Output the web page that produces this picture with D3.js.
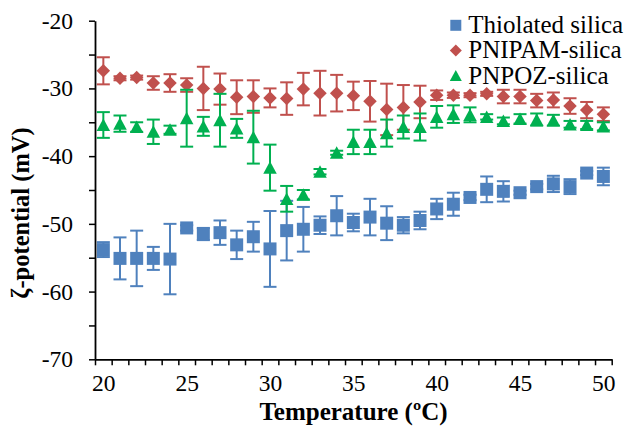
<!DOCTYPE html>
<html>
<head>
<meta charset="utf-8">
<script src="https://cdn.jsdelivr.net/npm/d3@7/dist/d3.min.js"></script>
<style>
  html, body { margin: 0; padding: 0; background: #fff; }
  svg { display: block; }
</style>
</head>
<body>
<svg id="chart" width="626" height="430"></svg>
<script>
// Temperatures (ºC)
const temperatures = d3.range(20, 51);

// ζ-potential means (mV) and standard deviations for each sample
const thiolatedMean = [-53.8, -55.1, -55.1, -55.1, -55.2, -50.6, -51.5, -51.3, -53.1, -51.9, -53.7,
  -51.0, -50.8, -50.2, -48.8, -49.8, -49.0, -49.9, -50.2, -49.5, -47.8,
  -47.1, -46.1, -44.9, -45.2, -45.4, -44.5, -44.1, -44.5, -42.5, -43.0];
const thiolatedErr = [1.1, 3.1, 4.1, 1.7, 5.2, 0.4, 0.9, 1.8, 2.1, 2.2, 5.6,
  4.4, 3.3, 1.3, 2.9, 1.3, 2.7, 2.5, 1.2, 1.3, 1.5,
  1.7, 0.4, 1.9, 1.5, 0.3, 0.4, 1.2, 1.1, 0.3, 1.3];

const pnipamMean = [-27.4, -28.5, -28.4, -29.2, -29.2, -29.5, -30.0, -30.1, -31.3, -31.2, -31.4,
  -31.5, -30.1, -30.7, -30.7, -31.1, -31.9, -33.1, -32.8, -32.0, -31.0,
  -31.0, -31.0, -30.8, -31.2, -31.2, -31.8, -31.7, -32.6, -33.2, -33.8];
const pnipamErr = [2.0, 0.3, 0.3, 1.0, 1.3, 1.0, 3.2, 2.3, 2.5, 2.4, 1.4,
  2.4, 2.4, 3.3, 2.7, 2.1, 3.0, 3.8, 3.3, 2.4, 0.7,
  0.4, 0.3, 0.3, 1.0, 1.0, 1.0, 1.1, 1.15, 1.2, 1.0];

const pnpozMean = [-35.4, -35.2, -35.7, -36.4, -36.1, -34.4, -35.6, -34.7, -35.9, -37.2, -41.7,
  -46.3, -45.7, -42.3, -39.5, -37.9, -37.9, -36.6, -35.7, -35.7, -34.2,
  -33.8, -33.9, -34.2, -34.8, -34.5, -34.6, -34.7, -35.3, -35.4, -35.6];
const pnpozErr = [1.9, 1.2, 0.7, 1.8, 0.6, 4.2, 1.4, 3.9, 1.4, 3.9, 3.4,
  1.9, 0.7, 0.4, 0.3, 1.8, 1.8, 2.0, 1.7, 2.0, 1.6,
  1.3, 1.1, 0.4, 0.5, 0.7, 0.9, 0.8, 0.5, 0.6, 0.6];

const seriesNames = ["Thiolated silica", "PNIPAM-silica", "PNPOZ-silica"];
const seriesColors = ["#4F81BD", "#C0504D", "#00B050"];

const xLabelValues = [20, 25, 30, 35, 40, 45, 50];
const yTickValues = [-70, -65, -60, -55, -50, -45, -40, -35, -30, -25, -20];

const series = [
  { mean: thiolatedMean, err: thiolatedErr },
  { mean: pnipamMean, err: pnipamErr },
  { mean: pnpozMean, err: pnpozErr }
];

const FONT = "'Times New Roman', 'Liberation Serif', Times, serif";

// Marker shapes: square, square-diamond and a triangle as wide as it is tall
const squareMark = {
  draw(ctx, size) { const r = Math.sqrt(size) / 2; ctx.rect(-r, -r, 2 * r, 2 * r); }
};
const diamondMark = {
  draw(ctx, size) {
    const r = Math.sqrt(size) / 2;
    ctx.moveTo(0, -r); ctx.lineTo(r, 0); ctx.lineTo(0, r); ctx.lineTo(-r, 0); ctx.closePath();
  }
};
const triangleMark = {
  draw(ctx, size) {
    const r = Math.sqrt(size) / 2;
    ctx.moveTo(0, -r * 0.95); ctx.lineTo(r, r * 0.9); ctx.lineTo(-r, r * 0.9); ctx.closePath();
  }
};
const seriesSymbols = [squareMark, diamondMark, triangleMark];
const markSizes = [13, 13.5, 13.5];
const legendMarkSizes = [11, 12, 12];

const svg = d3.select("#chart");

const x = d3.scaleLinear().domain([19.5, 50.5]).range([95, 611.7]);
const y = d3.scaleLinear().domain([-70, -20]).range([359.3, 20.7]);

// Series: error bars first, then markers
series.forEach((s, i) => {
  const g = svg.append("g");
  const color = seriesColors[i];
  const bars = g.selectAll("g.err").data(temperatures).join("g").attr("class", "err")
    .attr("stroke", color).attr("stroke-width", 2).attr("fill", "none");
  bars.append("line")
    .attr("x1", (t) => x(t)).attr("x2", (t) => x(t))
    .attr("y1", (t, j) => y(s.mean[j] + s.err[j]))
    .attr("y2", (t, j) => y(s.mean[j] - s.err[j]));
  bars.append("line")
    .attr("x1", (t) => x(t) - 6.5).attr("x2", (t) => x(t) + 6.5)
    .attr("y1", (t, j) => y(s.mean[j] + s.err[j]))
    .attr("y2", (t, j) => y(s.mean[j] + s.err[j]));
  bars.append("line")
    .attr("x1", (t) => x(t) - 6.5).attr("x2", (t) => x(t) + 6.5)
    .attr("y1", (t, j) => y(s.mean[j] - s.err[j]))
    .attr("y2", (t, j) => y(s.mean[j] - s.err[j]));

  const sym = d3.symbol().type(seriesSymbols[i]).size(markSizes[i] * markSizes[i]);
  g.selectAll("path.mark").data(temperatures).join("path").attr("class", "mark")
    .attr("d", sym)
    .attr("fill", color)
    .attr("transform", (t, j) => `translate(${x(t)},${y(s.mean[j])})`);
});

// X axis: ticks between temperatures, labels every 5 ºC
const xAxis = svg.append("g").attr("transform", "translate(0,359.3)")
  .call(d3.axisBottom(x).tickValues(d3.range(19.5, 50.6, 1)).tickSize(6).tickSizeOuter(0).tickFormat(""));
xAxis.select(".domain").attr("stroke", "#000").attr("stroke-width", 1.8);
xAxis.selectAll(".tick line").attr("stroke", "#000").attr("stroke-width", 1.5);

const xLabels = svg.append("g").attr("transform", "translate(0,359.3)")
  .call(d3.axisBottom(x).tickValues(xLabelValues).tickSize(0).tickPadding(15));
xLabels.attr("font-family", FONT).attr("font-size", 23.5);
xLabels.select(".domain").remove();
xLabels.selectAll("text").attr("fill", "#000");

// Y axis
const yAxis = svg.append("g").attr("transform", "translate(95,0)")
  .call(d3.axisLeft(y).tickValues(yTickValues).tickSize(6).tickSizeOuter(0).tickPadding(8)
    .tickFormat((d) => (d % 10 === 0 ? d : "")));
yAxis.attr("font-family", FONT).attr("font-size", 23.5);
yAxis.select(".domain").attr("stroke", "#000").attr("stroke-width", 1.8);
yAxis.selectAll(".tick line").attr("stroke", "#000").attr("stroke-width", 1.5);
yAxis.selectAll("text").attr("fill", "#000").attr("dx", -8);

// Axis titles
svg.append("text")
  .attr("x", 353.5).attr("y", 420)
  .attr("text-anchor", "middle")
  .attr("font-family", FONT)
  .attr("font-size", 25).attr("font-weight", "bold")
  .text("Temperature (ºC)");

svg.append("text")
  .attr("transform", "translate(29,213) rotate(-90)")
  .attr("text-anchor", "middle")
  .attr("font-family", FONT)
  .attr("font-size", 24.5).attr("font-weight", "bold")
  .text("ζ-potential (mV)");

// Legend
const legend = svg.append("g").attr("transform", "translate(455.8,25.3)");
seriesNames.forEach((name, i) => {
  const row = legend.append("g").attr("transform", `translate(0,${i * 25.2})`);
  row.append("path")
    .attr("d", d3.symbol().type(seriesSymbols[i]).size(legendMarkSizes[i] * legendMarkSizes[i])())
    .attr("fill", seriesColors[i]);
  row.append("text")
    .attr("x", 12.5).attr("y", 7.8)
    .attr("font-family", FONT)
    .attr("font-size", 25)
    .text(name);
});
</script>
</body>
</html>
